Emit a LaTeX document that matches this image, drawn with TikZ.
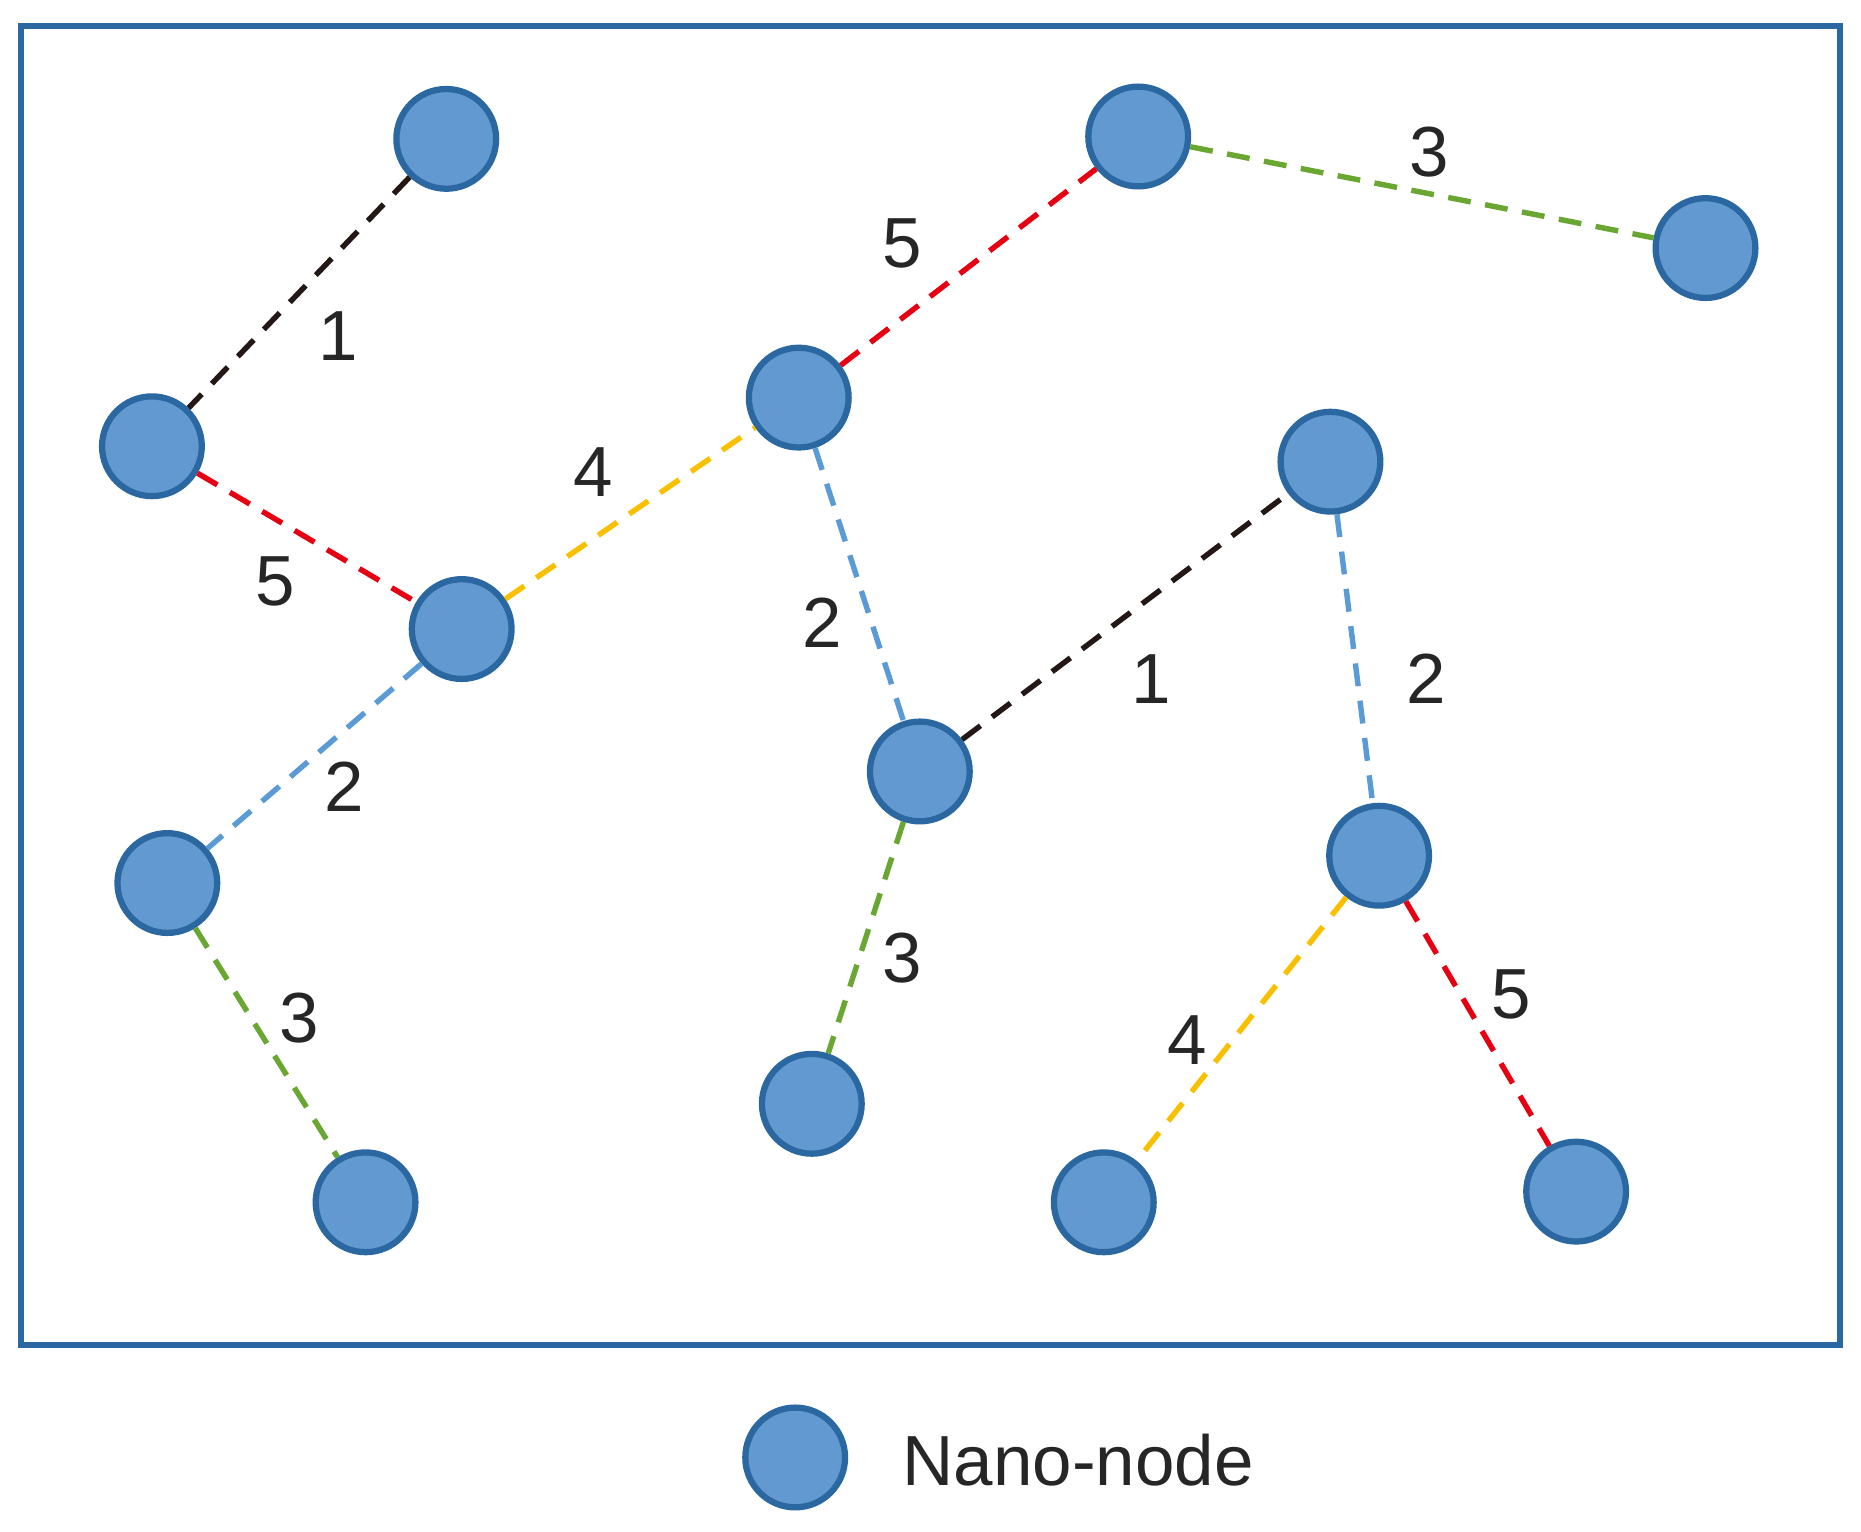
\documentclass[tikz,border=0pt]{standalone}
\usepackage{fontspec}
\setmainfont{Liberation Sans}
\begin{document}
\begin{tikzpicture}[x=0.01cm,y=-0.01cm,
  nano/.style={circle,fill=nfill,draw=nborder,line width=1.5pt,minimum size=0.84cm,inner sep=0pt},
  link/.style={line width=1.3pt,dash pattern=on 5.5pt off 3.5pt},
  lab/.style={font=\fontsize{17}{17}\selectfont,text=black!85}]
\definecolor{nfill}{HTML}{6199D0}
\definecolor{nborder}{HTML}{2B67A0}
\definecolor{cblack}{HTML}{231815}
\definecolor{cred}{HTML}{E60012}
\definecolor{cyel}{HTML}{F8C000}
\definecolor{cgreen}{HTML}{6AA632}
\definecolor{cblue}{HTML}{5B9BD5}
\useasboundingbox (0,0) rectangle (1568,1290);
\draw[nborder,line width=1.4pt] (18,22) rectangle (1550,1133);
\node[nano] (A) at (376,117) {};
\node[nano] (B) at (128,376) {};
\node[nano] (C) at (389,530) {};
\node[nano] (D) at (141,744) {};
\node[nano] (E) at (308,1013) {};
\node[nano] (F) at (673,335) {};
\node[nano] (G) at (959,115) {};
\node[nano] (H) at (1437,209) {};
\node[nano] (I) at (775,650) {};
\node[nano] (J) at (684,930) {};
\node[nano] (K) at (1121,389) {};
\node[nano] (L) at (1162,721) {};
\node[nano] (M) at (930,1013) {};
\node[nano] (N) at (1328,1004) {};
\draw[link,cblack] (A) -- (B);
\draw[link,cred] (B) -- (C);
\draw[link,cyel] (C) -- (F);
\draw[link,cred] (F) -- (G);
\draw[link,cgreen] (G) -- (H);
\draw[link,cblue] (F) -- (I);
\draw[link,cblue] (C) -- (D);
\draw[link,cgreen] (D) -- (E);
\draw[link,cblack] (I) -- (K);
\draw[link,cgreen] (I) -- (J);
\draw[link,cblue] (K) -- (L);
\draw[link,cyel] (L) -- (M);
\draw[link,cred] (L) -- (N);
\node[lab] (l1) at (285,283) {1};
\node[lab] (l2) at (232,490) {5};
\node[lab] (l3) at (500,398) {4};
\node[lab] (l4) at (760,205) {5};
\node[lab] (l5) at (1204,128) {3};
\node[lab] (l6) at (693,525) {2};
\node[lab] (l7) at (290,663) {2};
\node[lab] (l8) at (252,858) {3};
\node[lab] (l9) at (970,572) {1};
\node[lab] (l10) at (760,807) {3};
\node[lab] (l11) at (1202,572) {2};
\node[lab] (l12) at (1000,876) {4};
\node[lab] (l13) at (1273,838) {5};
\node[nano] (leg) at (670,1228) {};
\node[lab,anchor=west] (legt) at (748,1230) {Nano-node};
\end{tikzpicture}
\end{document}
